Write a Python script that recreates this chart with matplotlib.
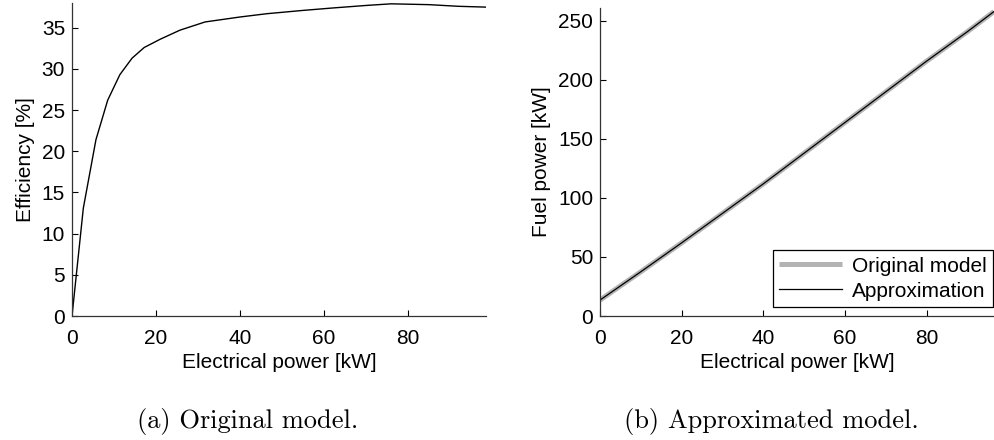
import numpy as np
import matplotlib.pyplot as plt

plt.rcParams['font.family'] = ['Liberation Sans', 'DejaVu Sans']

# (a) efficiency of the original model
p_el_a = [0, 2.7, 5.7, 8.5, 11.4, 14.3, 17.2, 21, 25.7, 31.7, 40, 46.4, 55, 62.2, 70, 76, 85, 92, 98.6]
eff = [0, 13.1, 21.4, 26.2, 29.3, 31.3, 32.6, 33.6, 34.7, 35.7, 36.3, 36.7, 37.1, 37.4, 37.7, 37.9, 37.8, 37.6, 37.5]

# (b) fuel power, original vs approximation
p_el_b = [0, 10, 20, 30, 40, 50, 60, 70, 80, 90, 96.5]
fuel_orig = [13.5, 37.5, 62, 87, 112, 138, 164, 190, 216, 241, 258]
fuel_appr = [13.5, 37.5, 62, 87, 112, 138, 164, 190, 216, 241, 258]

W, H = 994, 440
fig = plt.figure(figsize=(W / 100, H / 100), dpi=100)

def box(l, r, t, b):
    return [l / W, 1 - b / H, (r - l) / W, (b - t) / H]

def style(ax):
    for s in ['top', 'right']:
        ax.spines[s].set_visible(False)
    for s in ['left', 'bottom']:
        ax.spines[s].set_linewidth(0.9)
        ax.spines[s].set_color('#333333')
    ax.tick_params(direction='in', length=4, width=0.8, labelsize=15, pad=5, colors='black')
    ax.tick_params(axis='x', pad=9)

ax1 = fig.add_axes(box(72, 486, 3, 316))
ax1.plot(p_el_a, eff, color='black', lw=1.0)
ax1.set_xlim(0, 98.6)
ax1.set_ylim(0, 38)
ax1.set_xticks([0, 20, 40, 60, 80])
ax1.set_yticks(range(0, 40, 5))
ax1.set_xlabel('Electrical power [kW]', fontsize=15, labelpad=4)
ax1.set_ylabel('Efficiency [%]', fontsize=15, labelpad=5)
style(ax1)

ax2 = fig.add_axes(box(600, 994, 8, 316))
ax2.plot(p_el_b, fuel_orig, color='#b3b3b3', lw=3.6, label='Original model', solid_capstyle='butt')
ax2.plot(p_el_b, fuel_appr, color='black', lw=0.9, label='Approximation')
ax2.set_xlim(0, 96.5)
ax2.set_ylim(0, 261)
ax2.set_xticks([0, 20, 40, 60, 80])
ax2.set_yticks(range(0, 300, 50))
ax2.set_xlabel('Electrical power [kW]', fontsize=15, labelpad=4)
ax2.set_ylabel('Fuel power [kW]', fontsize=15, labelpad=5)
style(ax2)
leg = ax2.legend(loc='lower right', bbox_to_anchor=(0.998, 9 / 308), fontsize=15,
                 fancybox=False, framealpha=1, edgecolor='black', borderpad=0.3,
                 labelspacing=0.3, handlelength=3.0, handletextpad=0.5, borderaxespad=0)
leg.get_frame().set_linewidth(0.9)

fig.text(248 / W, 1 - 421 / H, '(a) Original model.', family='cmr10', fontsize=19,
         ha='center', va='center')
fig.text(771 / W, 1 - 421 / H, '(b) Approximated model.', family='cmr10', fontsize=19,
         ha='center', va='center')

fig.savefig('out.png', dpi=100)
